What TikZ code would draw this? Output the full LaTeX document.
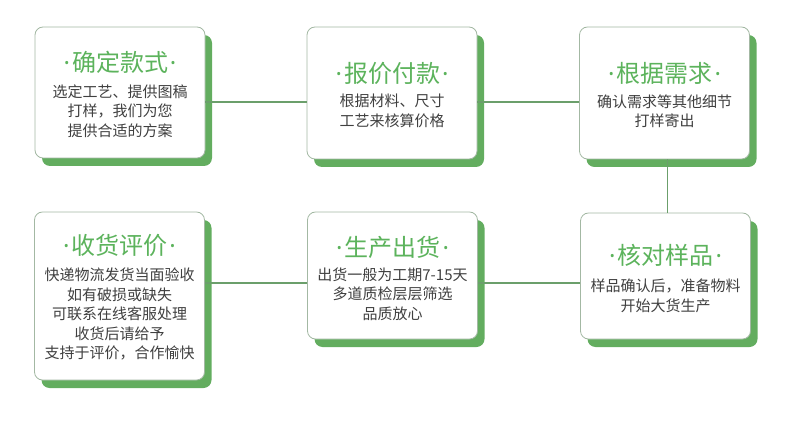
\documentclass[tikz,border=0pt]{standalone}
\usepackage{fontspec}
\setmainfont{Noto Sans CJK SC}
\newfontfamily\dotfont{Noto Sans}
\usetikzlibrary{shadows}
\definecolor{leafgreen}{HTML}{63AD5F}
\definecolor{titlegreen}{HTML}{5CB35C}
\definecolor{linkgreen}{HTML}{6B9F6B}
\definecolor{edgegray}{HTML}{A3B8A3}
\definecolor{bodygray}{HTML}{404040}
\newcommand{\tdot}{{\dotfont·}}
\newcommand{\steptitle}[1]{\tdot\hspace{2pt}#1\hspace{2pt}\tdot}
\tikzset{
  stepbox/.style={draw=edgegray, line width=0.8pt, fill=white,
    rounded corners=8pt, minimum width=170pt, inner sep=0pt,
    drop shadow={shadow xshift=7pt, shadow yshift=-8pt,
      fill=leafgreen, opacity=1}},
  title/.style={text=titlegreen, font=\fontsize{24}{26}\selectfont},
  body/.style={text=bodygray, align=center,
    font=\fontsize{15}{19.5}\selectfont},
  link/.style={linkgreen, line width=1.6pt}
}
\begin{document}
\begin{tikzpicture}[x=1pt, y=-1pt]
\useasboundingbox (0,0) rectangle (790,425);
% Rows of the connectors
\coordinate (toprow) at (0,102);
\coordinate (bottomrow) at (0,283);
% Boxes
\node[stepbox, minimum height=131pt] (choose) at (120,92.5) {};
\node[stepbox, minimum height=132pt] (quote) at (392,93) {};
\node[stepbox, minimum height=132pt] (sample) at (664.5,93) {};
\node[stepbox, minimum height=168pt] (receive) at (119.5,296) {};
\node[stepbox, minimum height=127pt] (ship) at (392.5,275.5) {};
\node[stepbox, minimum height=126pt] (check) at (665.5,276) {};
% Connectors
\draw[link] (choose.east |- toprow) -- (quote.west |- toprow);
\draw[link] (quote.east |- toprow) -- (sample.west |- toprow);
\draw[link] ([xshift=3pt]sample.south) -- ([xshift=2pt]check.north);
\draw[link] (check.west |- bottomrow) -- (ship.east |- bottomrow);
\draw[link] (ship.west |- bottomrow) -- (receive.east |- bottomrow);
% Titles
\node[title] (choose-t) at (120,62) {\steptitle{确定款式}};
\node[title] (quote-t) at (392,73) {\steptitle{报价付款}};
\node[title] (sample-t) at (664.5,73) {\steptitle{根据需求}};
\node[title] (receive-t) at (119.5,245) {\steptitle{收货评价}};
\node[title] (ship-t) at (392.5,247) {\steptitle{生产出货}};
\node[title] (check-t) at (665.5,255) {\steptitle{核对样品}};
% Texts
\node[body] (choose-b) at (120,111) {选定工艺、提供图稿\\打样，我们为您\\提供合适的方案};
\node[body] (quote-b) at (392,111) {根据材料、尺寸\\工艺来核算价格};
\node[body] (sample-b) at (664.5,111.5) {确认需求等其他细节\\打样寄出};
\node[body] (receive-b) at (119.5,314) {快递物流发货当面验收\\如有破损或缺失\\可联系在线客服处理\\收货后请给予\\支持于评价，合作愉快};
\node[body] (ship-b) at (392.5,294) {出货一般为工期7-15天\\多道质检层层筛选\\品质放心};
\node[body] (check-b) at (665.5,296) {样品确认后，准备物料\\开始大货生产};
\end{tikzpicture}
\end{document}
